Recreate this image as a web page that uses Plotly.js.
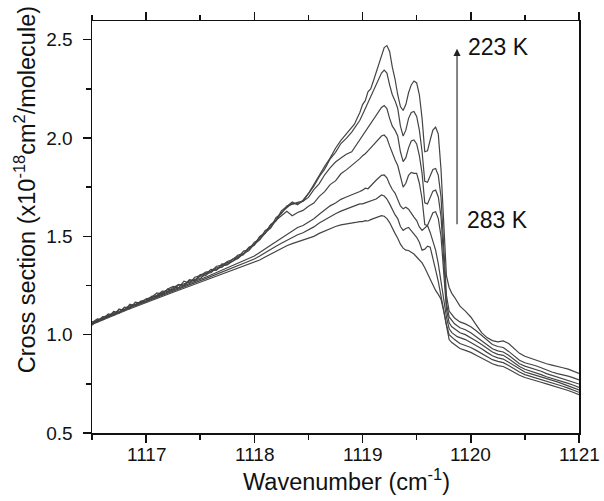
<!DOCTYPE html>
<html>
<head>
<meta charset="utf-8">
<script src="https://cdn.plot.ly/plotly-3.0.1.min.js"></script>
<style>html,body{margin:0;padding:0;background:#fff;}#chart{width:604px;height:501px;}</style>
</head>
<body>
<div id="chart"></div>
<script>
// Wavenumber grid (cm-1)
const wavenumber = [
1116.5,1116.55,1116.6,1116.65,1116.7,1116.75,1116.8,1116.85,1116.9,1116.95,
1117,1117.05,1117.1,1117.15,1117.2,1117.25,1117.3,1117.35,1117.4,1117.45,
1117.5,1117.55,1117.6,1117.65,1117.7,1117.75,1117.8,1117.85,1117.9,1117.95,
1118,1118.05,1118.1,1118.15,1118.2,1118.25,1118.3,1118.35,1118.4,1118.45,
1118.5,1118.55,1118.6,1118.65,1118.7,1118.75,1118.8,1118.85,
1118.9,1118.925,1118.95,1118.975,1119,1119.025,1119.05,1119.075,1119.1,1119.125,
1119.15,1119.175,1119.2,1119.225,1119.25,1119.275,1119.3,1119.325,1119.35,1119.375,
1119.4,1119.425,1119.45,1119.475,1119.5,1119.525,1119.55,1119.575,1119.6,1119.625,
1119.65,1119.675,1119.7,1119.725,1119.75,1119.775,1119.8,1119.825,1119.85,1119.875,1119.9,
1119.95,1120,1120.05,1120.1,1120.15,1120.2,1120.25,1120.3,1120.35,1120.4,
1120.45,1120.5,1120.55,1120.6,1120.65,1120.7,1120.75,1120.8,1120.85,1120.9,1120.95,1121
];

// Cross sections (x1e-18 cm2/molecule), from coldest (223 K) to warmest (283 K)
const cs1 = [
1.062,1.080,1.078,1.105,1.100,1.128,1.122,1.155,1.145,1.170,
1.178,1.190,1.212,1.205,1.232,1.245,1.238,1.272,1.262,1.292,
1.300,1.318,1.322,1.348,1.352,1.372,1.382,1.405,1.412,1.445,
1.458,1.500,1.518,1.560,1.582,1.630,1.652,1.675,1.660,1.684,
1.718,1.766,1.808,1.856,1.898,1.948,1.988,2.022,
2.050,2.070,2.100,2.130,2.170,2.190,2.235,2.250,2.290,2.330,
2.370,2.420,2.460,2.470,2.440,2.360,2.300,2.220,2.160,2.140,
2.170,2.230,2.270,2.290,2.280,2.220,2.100,1.930,1.935,1.990,
2.040,2.055,2.020,1.840,1.550,1.300,1.240,1.210,1.190,1.170,1.145,
1.120,1.090,1.050,1.010,0.985,0.970,0.963,0.968,0.955,0.930,
0.905,0.890,0.880,0.872,0.862,0.852,0.845,0.840,0.832,0.825,0.815,0.803
];
const cs2 = [
1.055,1.068,1.092,1.088,1.118,1.112,1.140,1.132,1.165,1.160,
1.182,1.188,1.200,1.222,1.220,1.240,1.255,1.250,1.280,1.275,
1.305,1.308,1.332,1.330,1.360,1.358,1.385,1.392,1.425,1.432,
1.470,1.485,1.530,1.545,1.595,1.616,1.654,1.665,1.673,1.679,
1.718,1.755,1.803,1.842,1.893,1.927,1.972,1.998,
2.030,2.050,2.070,2.090,2.120,2.150,2.180,2.210,2.240,2.270,
2.300,2.330,2.345,2.330,2.270,2.220,2.190,2.150,2.060,2.010,
2.040,2.100,2.130,2.135,2.110,2.040,1.930,1.780,1.775,1.810,
1.840,1.845,1.810,1.700,1.480,1.200,1.120,1.100,1.085,1.075,1.065,
1.055,1.040,1.020,0.995,0.970,0.950,0.940,0.935,0.915,0.890,
0.870,0.857,0.850,0.842,0.832,0.820,0.810,0.802,0.796,0.789,0.780,0.770
];
const cs3 = [
1.065,1.065,1.088,1.100,1.098,1.130,1.125,1.148,1.155,1.165,
1.170,1.192,1.195,1.215,1.222,1.232,1.252,1.258,1.268,1.282,
1.285,1.312,1.315,1.340,1.342,1.368,1.372,1.398,1.406,1.442,
1.455,1.496,1.514,1.556,1.578,1.622,1.645,1.668,1.665,1.678,
1.698,1.738,1.768,1.813,1.848,1.878,1.898,1.917,
1.930,1.950,1.970,1.990,2.010,2.030,2.050,2.070,2.090,2.110,
2.130,2.155,2.165,2.150,2.100,2.060,2.040,2.010,1.930,1.880,
1.900,1.950,1.985,1.990,1.970,1.910,1.820,1.670,1.665,1.700,
1.730,1.735,1.700,1.600,1.400,1.160,1.090,1.070,1.055,1.045,1.035,
1.025,1.010,0.990,0.970,0.948,0.928,0.918,0.912,0.895,0.872,
0.852,0.840,0.832,0.824,0.814,0.802,0.793,0.786,0.776,0.768,0.759,0.749
];
const cs4 = [
1.048,1.075,1.076,1.098,1.112,1.110,1.138,1.142,1.152,1.170,
1.168,1.195,1.198,1.210,1.232,1.228,1.255,1.250,1.275,1.272,
1.298,1.300,1.325,1.328,1.350,1.355,1.375,1.388,1.412,1.428,
1.460,1.482,1.518,1.542,1.582,1.606,1.628,1.605,1.621,1.632,
1.653,1.669,1.703,1.727,1.763,1.782,1.818,1.838,
1.860,1.875,1.885,1.895,1.910,1.920,1.935,1.950,1.970,1.985,
1.995,2.010,2.015,2.000,1.960,1.920,1.890,1.860,1.800,1.750,
1.770,1.810,1.825,1.820,1.820,1.770,1.690,1.560,1.555,1.590,
1.620,1.625,1.590,1.500,1.330,1.130,1.060,1.040,1.030,1.020,1.010,
1.000,0.985,0.968,0.950,0.930,0.912,0.900,0.895,0.878,0.857,
0.838,0.824,0.816,0.808,0.797,0.786,0.778,0.771,0.761,0.752,0.743,0.732
];
const cs5 = [
1.060,1.070,1.083,1.094,1.106,1.118,1.130,1.140,1.150,1.160,
1.172,1.182,1.194,1.208,1.216,1.228,1.238,1.250,1.260,1.270,
1.282,1.292,1.304,1.315,1.326,1.338,1.350,1.360,1.372,1.385,
1.400,1.418,1.438,1.455,1.472,1.490,1.510,1.528,1.545,1.555,
1.572,1.590,1.612,1.635,1.655,1.670,1.688,1.700,
1.710,1.715,1.722,1.728,1.735,1.745,1.742,1.758,1.772,1.785,
1.798,1.810,1.812,1.798,1.765,1.738,1.720,1.690,1.655,1.640,
1.648,1.638,1.615,1.598,1.580,1.548,1.530,1.545,1.555,1.520,
1.470,1.430,1.360,1.280,1.180,1.090,1.030,1.010,1.000,0.990,0.985,
0.975,0.960,0.945,0.928,0.910,0.893,0.882,0.876,0.860,0.842,
0.825,0.810,0.802,0.794,0.785,0.776,0.767,0.760,0.750,0.741,0.731,0.719
];
const cs6 = [
1.056,1.068,1.080,1.092,1.104,1.115,1.126,1.137,1.148,1.158,
1.169,1.180,1.190,1.201,1.212,1.222,1.233,1.244,1.254,1.264,
1.275,1.285,1.296,1.306,1.317,1.328,1.338,1.350,1.360,1.372,
1.385,1.400,1.418,1.435,1.450,1.465,1.480,1.495,1.508,1.518,
1.532,1.548,1.568,1.585,1.600,1.615,1.628,1.640,
1.650,1.655,1.660,1.665,1.665,1.670,1.675,1.680,1.685,1.690,
1.700,1.710,1.705,1.690,1.665,1.635,1.610,1.590,1.550,1.530,
1.540,1.545,1.530,1.510,1.495,1.470,1.430,1.435,1.450,1.445,
1.380,1.330,1.270,1.200,1.120,1.050,1.000,0.985,0.975,0.965,0.955,
0.945,0.935,0.920,0.904,0.888,0.873,0.864,0.858,0.843,0.826,
0.810,0.797,0.789,0.781,0.772,0.764,0.755,0.748,0.738,0.728,0.718,0.707
];
const cs7 = [
1.052,1.064,1.076,1.088,1.100,1.110,1.121,1.132,1.142,1.153,
1.163,1.174,1.184,1.195,1.205,1.216,1.226,1.236,1.246,1.256,
1.266,1.276,1.286,1.296,1.306,1.316,1.326,1.336,1.346,1.356,
1.368,1.380,1.395,1.410,1.425,1.440,1.452,1.463,1.472,1.480,
1.490,1.500,1.515,1.528,1.540,1.550,1.558,1.562,
1.565,1.570,1.572,1.575,1.575,1.580,1.578,1.585,1.590,1.592,
1.600,1.605,1.602,1.590,1.570,1.540,1.515,1.490,1.460,1.440,
1.430,1.428,1.420,1.410,1.395,1.380,1.365,1.340,1.310,1.280,
1.250,1.225,1.205,1.180,1.120,1.040,0.975,0.960,0.950,0.940,0.930,
0.920,0.910,0.895,0.880,0.865,0.852,0.843,0.838,0.824,0.808,
0.794,0.782,0.775,0.767,0.758,0.750,0.742,0.735,0.726,0.716,0.706,0.695
];

const series = [cs1, cs2, cs3, cs4, cs5, cs6, cs7];
const tempLabels = ["223 K", "283 K"];
const xTickValues = [1117, 1118, 1119, 1120, 1121];
const xTickLabels = ["1117", "1118", "1119", "1120", "1121"];

const traces = series.map(function (ys) {
  return {
    x: wavenumber, y: ys, type: "scatter", mode: "lines",
    line: {color: "#444444", width: 1.2},
    hoverinfo: "skip"
  };
});

const FONT = "Liberation Sans, Arial, Helvetica, sans-serif";

const annotations = xTickValues.map(function (v, i) {
  return {text: xTickLabels[i], xref: "x", yref: "paper", x: v, y: -0.051,
          xanchor: "center", yanchor: "middle", showarrow: false,
          font: {family: FONT, size: 19, color: "#111111"}};
});
annotations.push(
  {text: "Wavenumber (cm<sup>-1</sup>)", xref: "paper", yref: "paper",
   x: 0.522, y: -0.113, xanchor: "center", yanchor: "middle", showarrow: false,
   font: {family: FONT, size: 23.5, color: "#111111"}},
  {text: "Cross section (x10<sup>-18</sup>cm<sup>2</sup>/molecule)", xref: "paper", yref: "paper",
   x: -0.137, y: 0.59, xanchor: "center", yanchor: "middle", textangle: -90, showarrow: false,
   font: {family: FONT, size: 23.5, color: "#111111"}},
  {text: tempLabels[0], xref: "x", yref: "y", x: 1119.955, y: 2.462,
   xanchor: "left", yanchor: "middle", showarrow: false,
   font: {family: FONT, size: 23, color: "#111111"}},
  {text: tempLabels[1], xref: "x", yref: "y", x: 1119.95, y: 1.584,
   xanchor: "left", yanchor: "middle", showarrow: false,
   font: {family: FONT, size: 23, color: "#111111"}},
  {text: "", xref: "x", yref: "y", x: 1119.873, y: 2.454,
   axref: "x", ayref: "y", ax: 1119.873, ay: 1.554,
   showarrow: true, arrowhead: 2, arrowsize: 1.3, arrowwidth: 1.1, arrowcolor: "#222222", standoff: 0, startstandoff: 0}
);

const layout = {
  width: 604, height: 501,
  margin: {l: 92, r: 25, t: 21, b: 68, pad: 0},
  paper_bgcolor: "#ffffff", plot_bgcolor: "#ffffff",
  showlegend: false,
  font: {family: FONT, size: 19, color: "#111111"},
  xaxis: {
    range: [1116.5, 1121], tick0: 1117, dtick: 1,
    ticks: "outside", ticklen: 8, tickwidth: 1.5, tickcolor: "#111111",
    minor: {dtick: 0.5, ticks: "outside", ticklen: 5, tickwidth: 1.5, tickcolor: "#111111", showgrid: false},
    showline: true, linecolor: "#111111", linewidth: 1.5, mirror: "ticks",
    showgrid: false, zeroline: false, showticklabels: false
  },
  yaxis: {
    range: [0.5, 2.595], tick0: 0.5, dtick: 0.5, tickformat: ".1f",
    ticks: "outside", ticklen: 8, tickwidth: 1.5, tickcolor: "#111111",
    minor: {dtick: 0.25, ticks: "outside", ticklen: 5, tickwidth: 1.5, tickcolor: "#111111", showgrid: false},
    showline: true, linecolor: "#111111", linewidth: 1.5, mirror: true,
    showgrid: false, zeroline: false, ticklabelstandoff: 6
  },
  annotations: annotations
};

Plotly.newPlot("chart", traces, layout, {displayModeBar: false, staticPlot: true});
</script>
</body>
</html>
